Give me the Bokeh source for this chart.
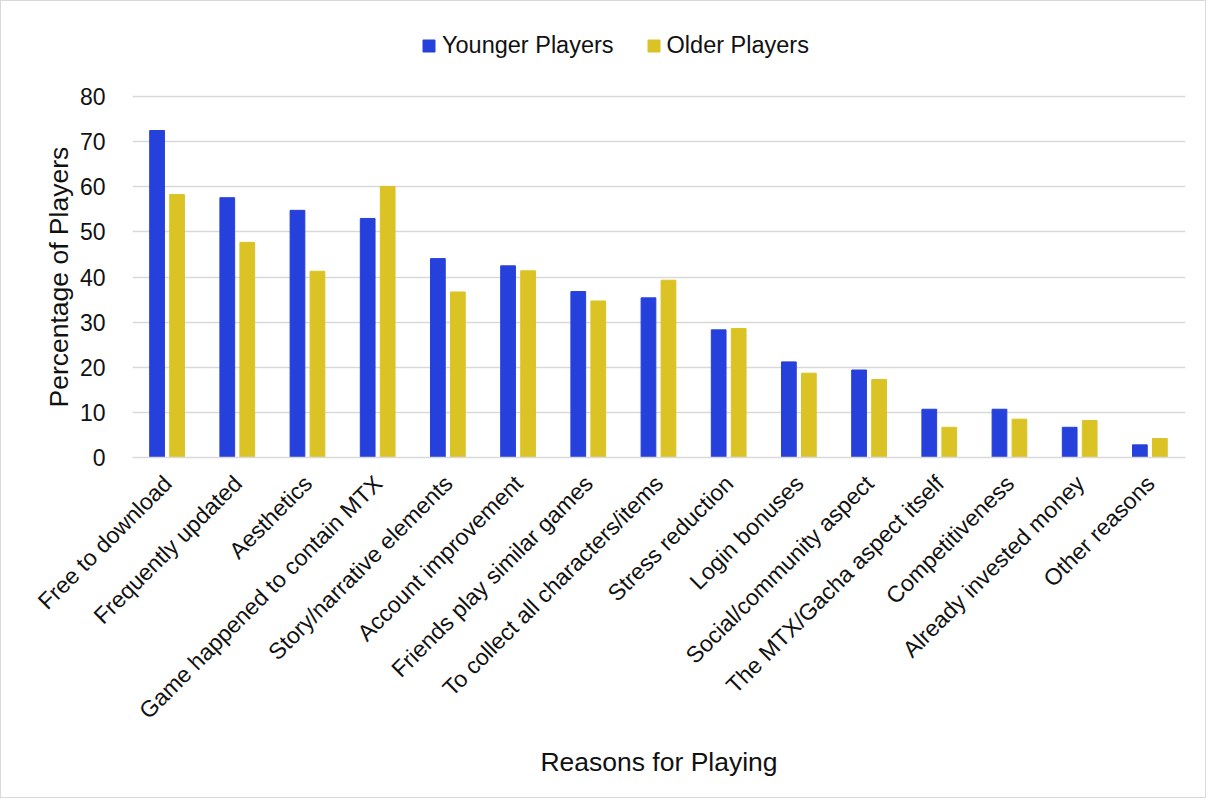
import math
from bokeh.plotting import figure
from bokeh.models import ColumnDataSource, Legend, LegendItem, FactorRange, Title
from bokeh.transform import dodge
from bokeh.embed import file_html
from bokeh.resources import INLINE

categories = ["Free to download", "Frequently updated", "Aesthetics",
              "Game happened to contain MTX", "Story/narrative elements",
              "Account improvement", "Friends play similar games",
              "To collect all characters/items", "Stress reduction",
              "Login bonuses", "Social/community aspect",
              "The MTX/Gacha aspect itself", "Competitiveness",
              "Already invested money", "Other reasons"]
younger = [72.5, 57.6, 54.8, 53.0, 44.1, 42.5, 36.8, 35.4, 28.3, 21.2, 19.4, 10.7, 10.7, 6.7, 2.8]
older = [58.3, 47.7, 41.3, 60.1, 36.7, 41.4, 34.7, 39.3, 28.6, 18.7, 17.3, 6.7, 8.5, 8.2, 4.2]
y_ticks = [0, 10, 20, 30, 40, 50, 60, 70, 80]

BLUE = "#2640DC"
YELLOW = "#DBC326"
FONT = "Liberation Sans"
TXT = "#111111"

src = ColumnDataSource(dict(cat=categories, young=younger, old=older))

# frame extends above the 80 line so the legend can sit inside it
p = figure(x_range=FactorRange(*categories), y_range=(0, 98),
           width=1206, height=798, output_backend="svg", toolbar_location=None,
           min_border_left=131, min_border_right=22, min_border_top=14,
           min_border_bottom=342)
p.styles = {"border": "1px solid #d9d9d9"}
p.x_range.range_padding = 0
p.outline_line_color = None

r1 = p.vbar(x=dodge("cat", -0.15, range=p.x_range), top="young", width=0.21,
            source=src, fill_color=BLUE, line_color=BLUE)
r2 = p.vbar(x=dodge("cat", 0.135, range=p.x_range), top="old", width=0.21,
            source=src, fill_color=YELLOW, line_color=YELLOW)

p.yaxis.ticker = y_ticks
p.ygrid.grid_line_color = "#d9d9d9"
p.ygrid.grid_line_width = 1.5
p.xgrid.grid_line_color = None

p.yaxis.axis_line_color = None
p.yaxis.major_tick_line_color = None
p.yaxis.minor_tick_line_color = None
p.yaxis.major_label_text_font = FONT
p.yaxis.major_label_text_font_size = "23px"
p.yaxis.major_label_text_color = TXT
p.yaxis.major_label_standoff = 21

ytitle = Title(text="Percentage of Players", align="left", offset=50,
               text_font=FONT, text_font_size="26.5px",
               text_font_style="normal", text_color=TXT, standoff=6)
p.add_layout(ytitle, "left")

p.xaxis.axis_line_color = "#d9d9d9"
p.xaxis.axis_line_width = 1.5
p.xaxis.major_tick_line_color = None
p.xaxis.minor_tick_line_color = None
p.xaxis.major_label_orientation = math.pi / 4
p.xaxis.major_label_text_font = FONT
p.xaxis.major_label_text_font_size = "23px"
p.xaxis.major_label_text_color = TXT
p.xaxis.major_label_standoff = 16
p.xaxis.axis_label = "Reasons for Playing"
p.xaxis.axis_label_text_font = FONT
p.xaxis.axis_label_text_font_size = "26.5px"
p.xaxis.axis_label_text_font_style = "normal"
p.xaxis.axis_label_text_color = TXT
p.xaxis.axis_label_standoff = 11

legend = Legend(items=[LegendItem(label="Younger Players", renderers=[r1]),
                       LegendItem(label="Older Players", renderers=[r2])],
                orientation="horizontal", location=(289, 398),
                label_text_font=FONT, label_text_font_size="23.5px",
                label_text_color=TXT, glyph_width=15, glyph_height=15,
                spacing=32, label_standoff=6, border_line_color=None,
                background_fill_alpha=0, padding=0, margin=0)
p.add_layout(legend, "center")

open("out.html", "w").write(file_html(p, INLINE))
